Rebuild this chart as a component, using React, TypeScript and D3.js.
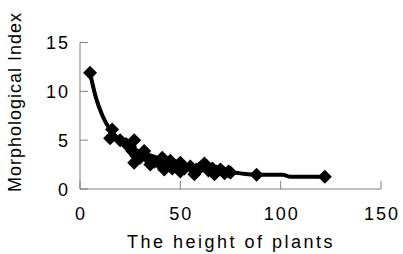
import React from "react";
import * as d3 from "d3";

const heights = [5, 15, 16, 20, 23, 25, 27, 26, 28, 27, 30, 32, 33, 35, 37, 40, 41, 42, 43, 45, 46, 48, 50, 50, 52, 55, 57, 58, 60, 62, 64, 66, 67, 68, 70, 72, 74, 75, 88, 122];
const indices = [11.9, 5.2, 6.1, 5.0, 4.6, 4.3, 5.0, 3.9, 3.4, 2.7, 3.2, 3.9, 3.3, 2.5, 2.8, 2.5, 3.2, 2.0, 2.4, 2.9, 2.1, 2.3, 2.7, 1.8, 2.1, 2.3, 1.5, 2.0, 2.2, 2.6, 1.9, 2.1, 1.5, 1.8, 2.0, 1.6, 1.8, 1.7, 1.45, 1.25];

const fitX = [5, 8, 11, 14, 17, 20, 25, 30, 40, 50, 60, 70, 80, 88, 101, 105, 122];
const fitY = [11.9, 9.3, 7.6, 6.4, 5.6, 5.0, 4.3, 3.8, 3.1, 2.6, 2.2, 1.9, 1.6, 1.45, 1.45, 1.25, 1.25];

const xTicks = [0, 50, 100, 150];
const yTicks = [0, 5, 10, 15];

export default function App() {
  const W = 403, H = 254;
  const x = d3.scaleLinear().domain([0, 150]).range([80, 381]);
  const y = d3.scaleLinear().domain([0, 15]).range([189, 42.5]);
  const line = d3.line<number>().x((_, i) => x(fitX[i])).y((_, i) => y(fitY[i])).curve(d3.curveMonotoneX);
  const pts = heights.map((h, i) => [h, indices[i]]);
  const font = "'Liberation Sans', Arial, sans-serif";
  const r = 7;
  return (
    <svg width={W} height={H} style={{ position: "absolute", left: 0, top: 0, background: "#fff" }}>
      <rect x={0} y={0} width={W} height={H} fill="#fff" />
      <line x1={x(0)} x2={x(150)} y1={y(0)} y2={y(0)} stroke="#808080" strokeWidth={1} />
      <line x1={x(0)} x2={x(0)} y1={y(0)} y2={y(15)} stroke="#808080" strokeWidth={1} />
      {xTicks.map((t) => (
        <g key={"x" + t}>
          <line x1={x(t)} x2={x(t)} y1={y(0)} y2={y(0) - 8} stroke="#808080" />
          <text x={x(t) + 1} y={220} textAnchor="middle" fontSize={18} fontFamily={font} letterSpacing={2} fill="#000">{t}</text>
        </g>
      ))}
      {yTicks.map((t) => (
        <g key={"y" + t}>
          <line x1={x(0)} x2={x(0) + 8} y1={y(t)} y2={y(t)} stroke="#808080" />
          <text x={70} y={y(t) + 6.5} textAnchor="end" fontSize={18} fontFamily={font} letterSpacing={2} fill="#000">{t}</text>
        </g>
      ))}
      <path d={line(fitX) || ""} fill="none" stroke="#000" strokeWidth={4} />
      {pts.map(([h, v], i) => (
        <path key={i} d={`M${x(h)},${y(v) - r}L${x(h) + r},${y(v)}L${x(h)},${y(v) + r}L${x(h) - r},${y(v)}Z`} fill="#000" />
      ))}
      <text x={231} y={248} textAnchor="middle" fontSize={18} fontFamily={font} letterSpacing={2.5} fill="#000">The height of plants</text>
      <text transform={`translate(21,102) rotate(-90)`} textAnchor="middle" fontSize={18} fontFamily={font} letterSpacing={1} fill="#000">Morphological Index</text>
    </svg>
  );
}
